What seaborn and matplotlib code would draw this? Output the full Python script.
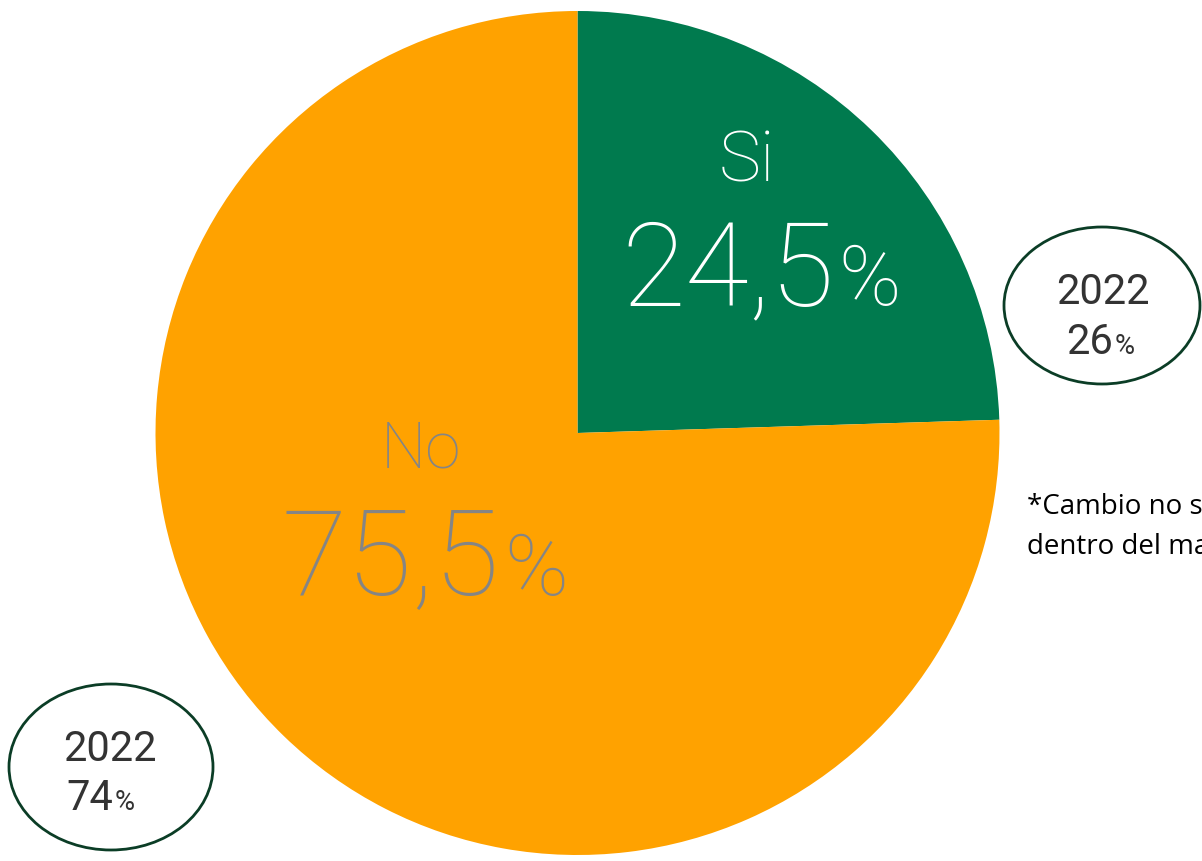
import matplotlib
matplotlib.use("Agg")
import matplotlib.pyplot as plt
from matplotlib.patches import Ellipse
import seaborn as sns

sns.set_theme(style="white")
plt.rcParams['font.family'] = ['Roboto', 'DejaVu Sans']

# Data
labels = ["Si", "No"]
values = [24.5, 75.5]
value_labels = ["24,5%", "75,5%"]
prev_year = "2022"
prev_values = ["26%", "74%"]
note_lines = ["*Cambio no significativo,", "dentro del margen de error"]

colors = ["#007A4E", "#FFA200"]
W, H = 1202, 862
WT = "light"

fig = plt.figure(figsize=(W / 100, H / 100), dpi=100)
ax = fig.add_axes([0, 0, 1, 1])

def Y(py):
    return H - py

ax.pie(values, colors=colors, startangle=90, counterclock=False,
       center=(577.5, Y(434)), radius=422,
       wedgeprops=dict(linewidth=0), frame=True)
ax.set_xlim(0, W)
ax.set_ylim(0, H)
ax.set_aspect("equal")
ax.axis("off")

def pct_text(x_split, y_base, s, size, color, scale=0.72, gap=4, z=4, wt=WT):
    num = s.rstrip("%")
    ax.text(x_split, Y(y_base), num, ha="right", va="baseline", fontsize=size,
            color=color, weight=wt, zorder=z)
    ax.text(x_split + gap, Y(y_base), "%", ha="left", va="baseline",
            fontsize=size * scale, color=color, weight=wt, zorder=z)

# Slice labels
ax.text(747, Y(182), labels[0], color="white", fontsize=51, weight=WT,
        ha="center", va="baseline")
pct_text(834, 305, value_labels[0], 84, "white")
ax.text(421, Y(468), labels[1], color="#858585", fontsize=46, weight=WT,
        ha="center", va="baseline")
pct_text(500, 595, value_labels[1], 86, "#858585")

# Previous year ellipses
edge = "#0B3D26"
txt = "#333333"
ax.add_patch(Ellipse((1102, Y(306.5)), 196, 157, facecolor="white",
                     edgecolor=edge, linewidth=2, zorder=3))
ax.text(1103, Y(304), prev_year, color=txt, fontsize=30, weight="normal",
        ha="center", va="baseline", zorder=4)
pct_text(1113, 354, prev_values[0], 30, txt, gap=2, wt="normal", scale=0.66)

ax.add_patch(Ellipse((111, Y(768)), 204, 166, facecolor="white",
                     edgecolor=edge, linewidth=2, zorder=3))
ax.text(110, Y(761), prev_year, color=txt, fontsize=30, weight="normal",
        ha="center", va="baseline", zorder=4)
pct_text(113, 810, prev_values[1], 30, txt, gap=2, wt="normal", scale=0.66)

# Note
ax.text(1027, Y(507), note_lines[0], color="black", fontsize=20,
        family=["Open Sans", "DejaVu Sans"], ha="left", va="center")
ax.text(1027, Y(547), note_lines[1], color="black", fontsize=20,
        family=["Open Sans", "DejaVu Sans"], ha="left", va="center")

fig.savefig("out.png", dpi=100)
